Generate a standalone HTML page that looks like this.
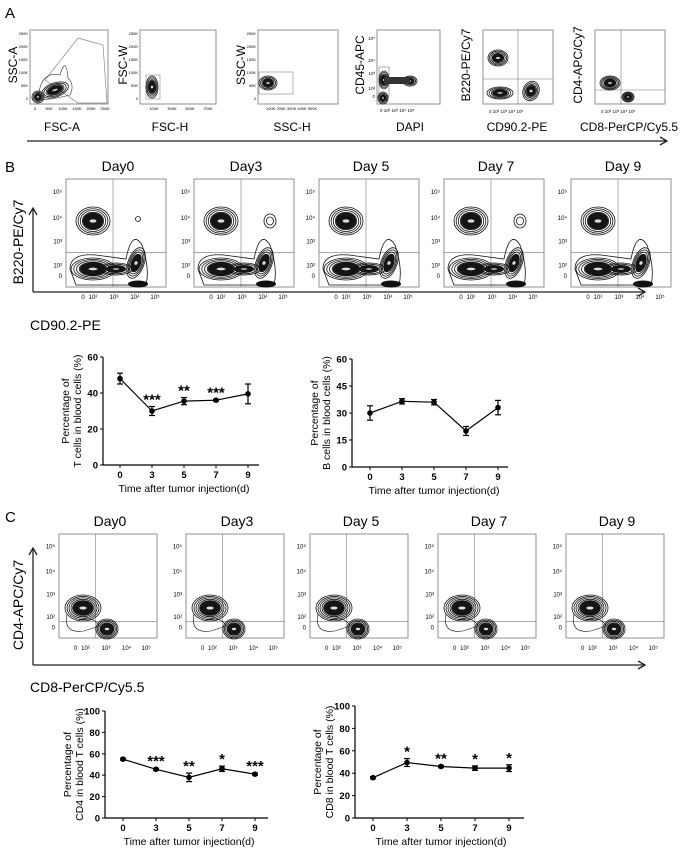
<!DOCTYPE html>
<html><head><meta charset="utf-8">
<style>
html,body{margin:0;padding:0;background:#fff;}
svg{display:block;font-family:"Liberation Sans",Arial,sans-serif;}
</style></head>
<body>
<svg id="fig" width="680" height="855" viewBox="0 0 680 855" xmlns="http://www.w3.org/2000/svg">
<g id="root"></g>
</svg>
<script>
// ---- Line chart data ----
const days = ["0","3","5","7","9"];
const tCells = [48, 30, 35.5, 36, 39.5];
const tErr = [3, 2.5, 2, 0.5, 5.5];
const tStars = ["", "***", "**", "***", ""];
const bCells = [30, 36.5, 36, 20, 33];
const bErr = [4, 1.5, 1.5, 2.5, 4];
const bStars = ["", "", "", "", ""];
const cd4 = [55, 45.5, 38, 46, 41];
const cd4Err = [1, 1, 4, 2.5, 1];
const cd4Stars = ["", "***", "**", "*", "***"];
const cd8 = [36, 49.5, 46, 44.5, 44.5];
const cd8Err = [1, 3.5, 1, 2, 3];
const cd8Stars = ["", "*", "**", "*", "*"];
const tTicks = [0, 20, 40, 60];
const bTicks = [0, 15, 30, 45, 60];
const pctTicks = [0, 20, 40, 60, 80, 100];
const dayTitles = ["Day0", "Day3", "Day 5", "Day 7", "Day 9"];

const NS = "http://www.w3.org/2000/svg";
const root = document.getElementById("root");
function el(tag, attrs, parent) {
  const e = document.createElementNS(NS, tag);
  for (const k in attrs) e.setAttribute(k, attrs[k]);
  (parent || root).appendChild(e);
  return e;
}
function txt(s, attrs, parent) {
  const e = el("text", attrs, parent);
  e.textContent = s;
  return e;
}
function contour(g, cx, cy, rx, ry, n, rot) {
  for (let i = 0; i < n; i++) {
    const f = 1 - i / (n + 2);
    el("ellipse", {cx: cx, cy: cy, rx: rx * f, ry: ry * f, fill: "none", stroke: "#111", "stroke-width": 0.8,
      transform: "rotate(" + (rot || 0) + " " + cx + " " + cy + ")"}, g);
  }
  el("ellipse", {cx: cx, cy: cy, rx: rx * 0.6, ry: ry * 0.6, fill: "#151515",
    transform: "rotate(" + (rot || 0) + " " + cx + " " + cy + ")"}, g);
  el("ellipse", {cx: cx, cy: cy, rx: rx * 0.2, ry: ry * 0.12, fill: "#ddd",
    transform: "rotate(" + (rot || 0) + " " + cx + " " + cy + ")"}, g);
}
function arrowLine(x1, y1, x2, y2, name) {
  const g = el("g", {});
  
  
  el("line", {x1: x1, y1: y1, x2: x2, y2: y2, stroke: "#222", "stroke-width": 1.3}, g);
  const dx = x2 - x1, dy = y2 - y1, L = Math.hypot(dx, dy), ux = dx / L, uy = dy / L;
  el("polyline", {points: (x2 - ux * 7 - uy * 4) + "," + (y2 - uy * 7 + ux * 4) + " " + x2 + "," + y2 + " " + (x2 - ux * 7 + uy * 4) + "," + (y2 - uy * 7 - ux * 4),
    fill: "none", stroke: "#222", "stroke-width": 1.3}, g);
}

// ---------- Panel A ----------
txt("A", {x: 5, y: 18, "font-size": 15});
const aPlots = [
  {x: 30, w: 78, yl: "SSC-A", xl: "FSC-A", lx: 62},
  {x: 140, w: 76, yl: "FSC-W", xl: "FSC-H", lx: 170},
  {x: 258, w: 80, yl: "SSC-W", xl: "SSC-H", lx: 292},
  {x: 377, w: 63, yl: "CD45-APC", xl: "DAPI", lx: 410},
  {x: 483, w: 70, yl: "B220-PE/Cy7", xl: "CD90.2-PE", lx: 517},
  {x: 595, w: 70, yl: "CD4-APC/Cy7", xl: "CD8-PerCP/Cy5.5", lx: 629}
];
aPlots.forEach((p, i) => {
  const g = el("g", {});
  
  
  const y0 = 30, h = 74;
  el("rect", {x: p.x, y: y0, width: p.w, height: h, fill: "none", stroke: "#777", "stroke-width": 0.8}, g);
  txt(p.yl, {x: 0, y: 0, "font-size": 12, "text-anchor": "middle", transform: "translate(" + (p.x - 13) + "," + (y0 + h / 2 - 2) + ") rotate(-90)"}, g);
  txt(p.xl, {x: p.lx, y: 131, "font-size": 12, "text-anchor": "middle"}, g);
  if (i < 3) {
    ["250K","200K","150K","100K","50K","0"].forEach((t, k) => txt(t, {x: p.x - 2, y: y0 + 5 + k * 13, "font-size": 4, "text-anchor": "end"}, g));
  }
  if (i === 0) {
    el("polygon", {points: "78,38 103,45 107,103 78,103 45,80", fill: "none", stroke: "#888", "stroke-width": 0.7}, g);
    el("path", {d: "M38,100 Q40,70 60,75 Q66,55 68,78 Q75,85 70,95 Q50,100 38,100 Z", fill: "none", stroke: "#333", "stroke-width": 0.6}, g);
    contour(g, 55, 90, 14, 7, 4, -20);
    contour(g, 38, 97, 6, 6, 3, 0);
    ["0","50K","100K","150K","200K","250K"].forEach((t, k) => txt(t, {x: p.x + 5 + k * 14, y: 110, "font-size": 4, "text-anchor": "middle"}, g));
  } else if (i === 1) {
    el("rect", {x: 146, y: 75, width: 14, height: 24, fill: "none", stroke: "#888", "stroke-width": 0.6}, g);
    contour(g, 152, 87, 6, 11, 4, 0);
    ["100K","300K","500K","700K"].forEach((t, k) => txt(t, {x: p.x + 14 + k * 18, y: 110, "font-size": 4, "text-anchor": "middle"}, g));
  } else if (i === 2) {
    el("rect", {x: 259, y: 72, width: 34, height: 22, fill: "none", stroke: "#888", "stroke-width": 0.6}, g);
    contour(g, 268, 83, 9, 7, 4, 0);
    txt("100K 200K 300K 400K 500K", {x: p.x + 8, y: 110, "font-size": 4}, g);
  } else if (i === 3) {
    el("rect", {x: 379, y: 67, width: 10, height: 30, fill: "none", stroke: "#777", "stroke-width": 0.6}, g);
    contour(g, 384, 80, 5, 9, 4, 0);
    contour(g, 410, 81, 7, 5, 3, 0);
    el("rect", {x: 384, y: 77, width: 26, height: 7, fill: "#333"}, g);
    contour(g, 383, 98, 5, 6, 3, 0);
    [["10⁵",40],["10⁴",62],["10³",75],["10²",90],["0",98]].forEach(a => txt(a[0], {x: p.x - 2, y: a[1], "font-size": 4.5, "text-anchor": "end"}, g));
    txt("0 10²    10³   10⁴  10⁵", {x: p.x + 3, y: 112, "font-size": 4.5}, g);
  } else if (i === 4) {
    el("line", {x1: 518, y1: 30, x2: 518, y2: 104, stroke: "#777", "stroke-width": 0.6}, g);
    el("line", {x1: 483, y1: 79, x2: 553, y2: 79, stroke: "#777", "stroke-width": 0.6}, g);
    contour(g, 498, 58, 10, 8, 5, 0);
    contour(g, 500, 93, 13, 6, 4, 0);
    contour(g, 531, 91, 8, 10, 4, 20);
    txt("0 10²  10³ 10⁴ 10⁵", {x: p.x + 6, y: 113, "font-size": 4.5}, g);
  } else {
    el("line", {x1: 621, y1: 30, x2: 621, y2: 104, stroke: "#777", "stroke-width": 0.6}, g);
    el("line", {x1: 595, y1: 90, x2: 665, y2: 90, stroke: "#777", "stroke-width": 0.6}, g);
    contour(g, 610, 83, 10, 7, 5, 0);
    contour(g, 628, 97, 6, 5, 4, 0);
    txt("0 10²  10³ 10⁴ 10⁵", {x: p.x + 6, y: 113, "font-size": 4.5}, g);
  }
});
arrowLine(27, 141, 667, 141, "panel-a-arrow");

// ---------- Flow panels B and C ----------
function flowPanel(kind, y0, h, xs, w) {
  xs.forEach((x0, i) => {
    const g = el("g", {});
    
    
    txt(dayTitles[i], {x: x0 + w / 2 + 2, y: y0 - 8, "font-size": 14, "text-anchor": "middle"}, g);
    el("rect", {x: x0, y: y0, width: w, height: h, fill: "none", stroke: "#777", "stroke-width": 0.8}, g);
    const yl = [["10⁵",0.12],["10⁴",0.36],["10³",0.58],["10²",0.8],["0",0.9]];
    yl.forEach(a => txt(a[0], {x: x0 - 4, y: y0 + h * a[1] + 2, "font-size": 6, "text-anchor": "end"}, g));
    const xl = [["0",0.17],["10²",0.27],["10³",0.48],["10⁴",0.69],["10⁵",0.89]];
    xl.forEach(a => txt(a[0], {x: x0 + w * a[1], y: y0 + h + 12, "font-size": 6, "text-anchor": "middle"}, g));
    if (kind === "b") {
      el("line", {x1: x0 + w * 0.47, y1: y0, x2: x0 + w * 0.47, y2: y0 + h, stroke: "#777", "stroke-width": 0.6}, g);
      el("line", {x1: x0, y1: y0 + h * 0.68, x2: x0 + w, y2: y0 + h * 0.68, stroke: "#777", "stroke-width": 0.6}, g);
      contour(g, x0 + 27, y0 + 42, 17, 14, 6, 0);
      el("path", {d: "M" + (x0 + 4) + "," + (y0 + 90) + " Q" + (x0 + 4) + "," + (y0 + 74) + " " + (x0 + 30) + "," + (y0 + 76) + " L" + (x0 + 60) + "," + (y0 + 80) + " Q" + (x0 + 66) + "," + (y0 + 50) + " " + (x0 + 76) + "," + (y0 + 66) + " Q" + (x0 + 84) + "," + (y0 + 90) + " " + (x0 + 80) + "," + (y0 + 106) + " L" + (x0 + 10) + "," + (y0 + 106) + " Z", fill: "none", stroke: "#111", "stroke-width": 0.8}, g);
      contour(g, x0 + 27, y0 + 90, 22, 11, 6, 0);
      contour(g, x0 + 70, y0 + 84, 8, 16, 5, 20);
      contour(g, x0 + 50, y0 + 90, 16, 6, 3, 0);
      el("ellipse", {cx: x0 + 72, cy: y0 + 105, rx: 10, ry: 3.5, fill: "#111"}, g);
      if (i === 1 || i === 3) {
        el("ellipse", {cx: x0 + 76, cy: y0 + 42, rx: 6, ry: 7, fill: "none", stroke: "#111", "stroke-width": 0.8}, g);
        el("ellipse", {cx: x0 + 76, cy: y0 + 42, rx: 3.5, ry: 4, fill: "none", stroke: "#111", "stroke-width": 0.8}, g);
      }
      if (i === 0) el("circle", {cx: x0 + 72, cy: y0 + 40, r: 2.5, fill: "none", stroke: "#111", "stroke-width": 0.8}, g);
    } else {
      el("line", {x1: x0 + w * 0.37, y1: y0, x2: x0 + w * 0.37, y2: y0 + h, stroke: "#777", "stroke-width": 0.6}, g);
      el("line", {x1: x0, y1: y0 + h * 0.84, x2: x0 + w, y2: y0 + h * 0.84, stroke: "#777", "stroke-width": 0.6}, g);
      el("path", {d: "M" + (x0 + 8) + "," + (y0 + 80) + " Q" + (x0 + 4) + "," + (y0 + 100) + " " + (x0 + 25) + "," + (y0 + 97) + " L" + (x0 + 40) + "," + (y0 + 92) + " Q" + (x0 + 35) + "," + (y0 + 82) + " " + (x0 + 20) + "," + (y0 + 86), fill: "none", stroke: "#111", "stroke-width": 0.6}, g);
      contour(g, x0 + 24, y0 + 74, 18, 13, 7, 0);
      contour(g, x0 + 48, y0 + 95, 11, 10, 6, 0);
    }
  });
}
txt("B", {x: 5, y: 172, "font-size": 15});
flowPanel("b", 179, 108, [66, 194, 319, 444, 571], 100);
arrowLine(33, 292, 33, 208, "panel-b-y-arrow");
arrowLine(33, 292, 645, 292, "panel-b-x-arrow");
txt("B220-PE/Cy7", {x: 0, y: 0, "font-size": 14, "text-anchor": "middle", transform: "translate(23,242) rotate(-90)"});
txt("CD90.2-PE", {x: 30, y: 330, "font-size": 14});

txt("C", {x: 5, y: 522, "font-size": 15});
flowPanel("c", 534, 104, [59, 186, 310, 438, 566], 98);
arrowLine(33, 665, 33, 548, "panel-c-y-arrow");
arrowLine(33, 665, 645, 665, "panel-c-x-arrow");
txt("CD4-APC/Cy7", {x: 0, y: 0, "font-size": 14, "text-anchor": "middle", transform: "translate(23,605) rotate(-90)"});
txt("CD8-PerCP/Cy5.5", {x: 30, y: 692, "font-size": 14});

// ---------- Line charts ----------
function lineChart(name, ax, ayTop, ayBot, axEnd, ticksX, yTicks, vals, errs, stars, l1, l2) {
  const g = el("g", {});
  
  
  const yMax = yTicks[yTicks.length - 1];
  const ys = v => ayBot - (v / yMax) * (ayBot - ayTop);
  const xs = i => ticksX[0] + i * (ticksX[1] - ticksX[0]);
  el("line", {x1: ax, y1: ayTop, x2: ax, y2: ayBot, stroke: "#000", "stroke-width": 1.2}, g);
  el("line", {x1: ax, y1: ayBot, x2: axEnd, y2: ayBot, stroke: "#000", "stroke-width": 1.2}, g);
  yTicks.forEach(t => {
    el("line", {x1: ax - 3, y1: ys(t), x2: ax, y2: ys(t), stroke: "#000", "stroke-width": 1}, g);
    txt(String(t), {x: ax - 5, y: ys(t) + 3.5, "font-size": 9.5, "font-weight": "bold", "text-anchor": "end"}, g);
  });
  days.forEach((d, i) => {
    el("line", {x1: xs(i), y1: ayBot, x2: xs(i), y2: ayBot + 3, stroke: "#000", "stroke-width": 1}, g);
    txt(d, {x: xs(i), y: ayBot + 13, "font-size": 9.5, "font-weight": "bold", "text-anchor": "middle"}, g);
  });
  txt("Time after tumor injection(d)", {x: (xs(0) + xs(4)) / 2, y: ayBot + 27, "font-size": 10.5, "text-anchor": "middle"}, g);
  const yc = (ayTop + ayBot) / 2;
  txt(l1, {x: 0, y: 0, "font-size": 10.5, "text-anchor": "middle", transform: "translate(" + (ax - 34) + "," + yc + ") rotate(-90)"}, g);
  txt(l2, {x: 0, y: 0, "font-size": 10.5, "text-anchor": "middle", transform: "translate(" + (ax - 22) + "," + yc + ") rotate(-90)"}, g);
  el("polyline", {points: vals.map((v, i) => xs(i) + "," + ys(v)).join(" "), fill: "none", stroke: "#000", "stroke-width": 1.2}, g);
  vals.forEach((v, i) => {
    const e = errs[i];
    const pg = el("g", {}, g);
    
    
    el("line", {x1: xs(i), y1: ys(v + e), x2: xs(i), y2: ys(v - e), stroke: "#000", "stroke-width": 1.2}, pg);
    el("line", {x1: xs(i) - 3, y1: ys(v + e), x2: xs(i) + 3, y2: ys(v + e), stroke: "#000", "stroke-width": 1.2}, pg);
    el("line", {x1: xs(i) - 3, y1: ys(v - e), x2: xs(i) + 3, y2: ys(v - e), stroke: "#000", "stroke-width": 1.2}, pg);
    el("circle", {cx: xs(i), cy: ys(v), r: 2.8, fill: "#000"}, pg);
    if (stars[i]) txt(stars[i], {x: xs(i), y: ys(v + e) - 2, "font-size": 15, "font-weight": "bold", "text-anchor": "middle"}, pg);
  });
}
lineChart("t-cell-chart", 103, 357, 465, 259, [120, 152], tTicks, tCells, tErr, tStars, "Percentage of", "T cells in blood cells (%)");
lineChart("b-cell-chart", 352, 359, 467, 508, [370, 402], bTicks, bCells, bErr, bStars, "Percentage of", "B cells in blood cells (%)");
lineChart("cd4-chart", 105, 711, 818, 268, [123, 156], pctTicks, cd4, cd4Err, cd4Stars, "Percentage of", "CD4 in blood T cells (%)");
lineChart("cd8-chart", 355, 706, 818, 524, [373, 407], pctTicks, cd8, cd8Err, cd8Stars, "Percentage of", "CD8 in blood T cells (%)");
</script>
</body></html>
